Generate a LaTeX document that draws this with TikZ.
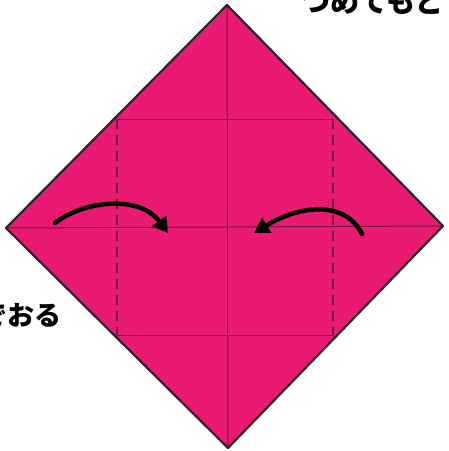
\documentclass[tikz,border=0pt]{standalone}
\usepackage{fontspec}
\newfontfamily\cjk{Noto Sans CJK JP}
\usetikzlibrary{arrows.meta}
\definecolor{paper}{RGB}{232,26,114}
\definecolor{crease}{RGB}{120,20,60}
\definecolor{edge}{RGB}{45,35,45}
\tikzset{
  foldline/.style={draw=crease, line width=1pt},
  dashfold/.style={draw=crease, line width=1.2pt, dash pattern=on 10pt off 6pt},
  movearrow/.style={draw=black, line width=4.5pt, line cap=round, -{Triangle[length=15pt,width=17pt]}},
  label/.style={font=\cjk\bfseries\fontsize{27}{27}\selectfont, inner sep=0pt, text=black}
}
\begin{document}
\begin{tikzpicture}[x=1pt,y=-1pt]
\useasboundingbox (0,0) rectangle (449,451);
\clip (0,0) rectangle (449,451);
\coordinate (T) at (227,5);
\coordinate (L) at (6,228);
\coordinate (R) at (443,226);
\coordinate (B) at (228,448);
\fill[paper] (T) -- (R) -- (B) -- (L) -- cycle;
% creases
\coordinate (c1) at (117,119);
\coordinate (c2) at (333,119);
\coordinate (c3) at (117,335);
\coordinate (c4) at (333,335);
\draw[foldline] (T) -- (B);
\draw[foldline] (L) -- (R);
\draw[foldline] (c1) -- (c2);
\draw[foldline] (c3) -- (c4);
\draw[dashfold] (c1) -- (c3);
\draw[dashfold] (c2) -- (c4);
\draw[draw=edge, line width=2.2pt, line join=round] (T) -- (R) -- (B) -- (L) -- cycle;
% arrows
\coordinate (a1s) at (55,223);
\coordinate (a1e) at (168,233);
\coordinate (a2s) at (362,234);
\coordinate (a2e) at (254,233);
\draw[movearrow] (a1s) .. controls (85,200) and (140,195) .. (a1e);
\draw[movearrow] (a2s) .. controls (345,200) and (300,205) .. (a2e);
% labels
\node[label, anchor=east] (lt) at (62,315) {でおる};
\node[label, anchor=west, font=\cjk\bfseries\fontsize{29}{29}\selectfont] (tt) at (301,1) {つめてもど};
\end{tikzpicture}
\end{document}
